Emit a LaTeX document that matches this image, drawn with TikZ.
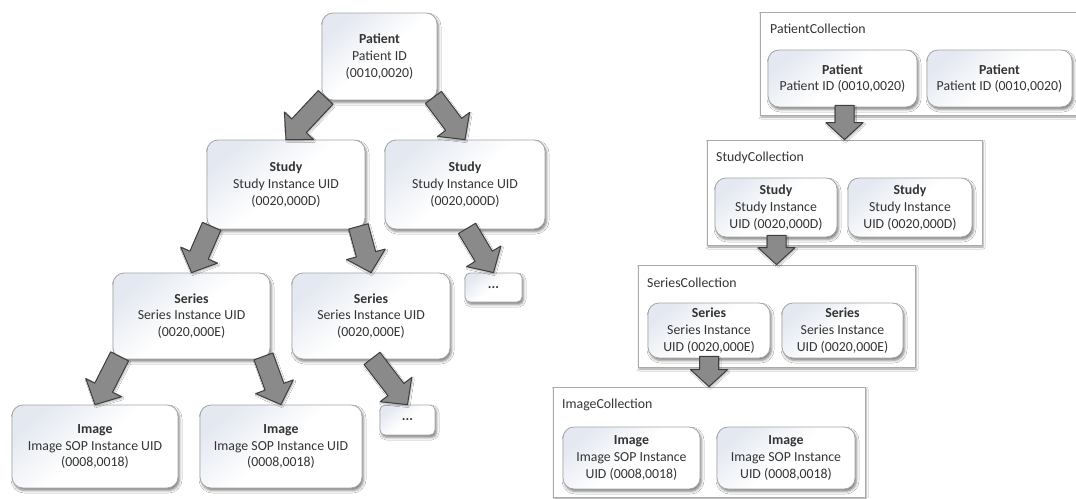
\documentclass[tikz,border=0pt]{standalone}
\usepackage{fontspec}
\setmainfont{Carlito}
\usetikzlibrary{calc,shadows.blur}

\definecolor{boxline}{RGB}{165,165,165}
\definecolor{boxtint}{RGB}{228,233,241}
\definecolor{txt}{RGB}{52,52,52}
\definecolor{arrowfill}{RGB}{138,138,138}
\definecolor{arrowline}{RGB}{62,62,62}
\definecolor{groupline}{RGB}{170,170,170}

\tikzset{
  base/.style={font=\fontsize{13.8}{16.7}\selectfont, text=txt, align=center, inner sep=0pt},
  sz/.style 2 args={minimum width=#1pt, minimum height=#2pt},
  entity/.style={base, rectangle, rounded corners=11pt, draw=boxline, line width=0.8pt,
    top color=boxtint, bottom color=white, middle color=white, shading angle=40,
    blur shadow={shadow xshift=1.5pt, shadow yshift=-2.5pt, shadow blur radius=2.5pt, shadow opacity=50}},
  more/.style={entity, rounded corners=5pt},
  group/.style={rectangle, draw=groupline, line width=0.8pt, fill=white,
    blur shadow={shadow xshift=1pt, shadow yshift=-2pt, shadow blur radius=2pt, shadow opacity=40}},
  grouplabel/.style={base, anchor=west},
  arrowbody/.style={fill=arrowfill, draw=arrowline, line width=1pt, line join=round,
    blur shadow={shadow xshift=1pt, shadow yshift=-1.5pt, shadow blur radius=1.5pt, shadow opacity=30}},
}

% block arrow: start, tip, shaft half width, head half width, head length
\newcommand\blockarrow[5]{%
  \coordinate (baA) at #1;
  \coordinate (baB) at #2;
  \coordinate (baH) at ($(baB)!#5!(baA)$);
  \draw[arrowbody] ($(baA)!#3!90:(baB)$) -- ($(baH)!#3!90:(baB)$) -- ($(baH)!#4!90:(baB)$)
    -- (baB) -- ($(baH)!#4!-90:(baB)$) -- ($(baH)!#3!-90:(baB)$) -- ($(baA)!#3!-90:(baB)$) -- cycle;
}

\begin{document}
\begin{tikzpicture}[x=1pt, y=-1pt]
\useasboundingbox (0,0) rectangle (1076,498);
\clip (0,0) rectangle (1076,498);
\fill[white] (0,0) rectangle (1076,498);

% ---------- hierarchy tree ----------
\node[entity, sz={115}{87}] (pat) at (379.5,56.5) {\textbf{Patient}\\Patient ID\\(0010,0020)};
\node[entity, sz={158}{89}] (st1) at (286,184.5) {\textbf{Study}\\Study Instance UID\\(0020,000D)};
\node[entity, sz={160}{89}] (st2) at (465,184.5) {\textbf{Study}\\Study Instance UID\\(0020,000D)};
\node[entity, sz={157}{86}] (se1) at (191.5,316) {\textbf{Series}\\Series Instance UID\\(0020,000E)};
\node[entity, sz={158}{86}] (se2) at (371,316) {\textbf{Series}\\Series Instance UID\\(0020,000E)};
\node[more, sz={57}{29}] (dots1) at (493.5,287.5) {\textbf{...}};
\node[entity, sz={166}{83}] (im1) at (95,446.5) {\textbf{Image}\\Image SOP Instance UID\\(0008,0018)};
\node[entity, sz={162}{83}] (im2) at (281,446.5) {\textbf{Image}\\Image SOP Instance UID\\(0008,0018)};
\node[more, sz={55}{30}] (dots2) at (407.5,420) {\textbf{...}};

\blockarrow{($(pat.south west)+(4,-3)$)}{(st1.north)}{10pt}{20pt}{19pt}
\blockarrow{($(pat.south east)+(-4,-3)$)}{(st2.north)}{10pt}{20pt}{19pt}
\blockarrow{($(st1.south west)+(5,-3)$)}{(se1.north)}{10pt}{20pt}{19pt}
\blockarrow{($(st1.south east)+(-7,-3)$)}{(se2.north)}{10pt}{20pt}{19pt}
\blockarrow{($(st2.south)+(2,-1)$)}{(dots1.north)}{10pt}{20pt}{19pt}
\blockarrow{($(se1.south west)+(7,-3)$)}{(im1.north)}{10pt}{20pt}{19pt}
\blockarrow{($(se1.south east)+(-7,-3)$)}{(im2.north)}{10pt}{20pt}{19pt}
\blockarrow{($(se2.south)+(1,-1)$)}{(dots2.north)}{10pt}{20pt}{19pt}

% ---------- collections ----------
\node[group, sz={322}{103}] (pc) at (921,63.5) {};
\node[grouplabel] (pcl) at (770,29) {PatientCollection};
\node[entity, sz={149}{57}] (rp1) at (842.5,78.5) {\textbf{Patient}\\Patient ID (0010,0020)};
\node[entity, sz={145}{57}] (rp2) at (999.5,78.5) {\textbf{Patient}\\Patient ID (0010,0020)};

\node[group, sz={275}{105}] (sc) at (844.5,192.5) {};
\node[grouplabel] (scl) at (716,158) {StudyCollection};
\node[entity, sz={122}{59}] (rs1) at (776,207.5) {\textbf{Study}\\Study Instance\\UID (0020,000D)};
\node[entity, sz={124}{59}] (rs2) at (910,207.5) {\textbf{Study}\\Study Instance\\UID (0020,000D)};

\node[group, sz={277}{102}] (sec) at (776.5,316) {};
\node[grouplabel] (secl) at (647,283) {SeriesCollection};
\node[entity, sz={122}{55}] (rse1) at (709,330.5) {\textbf{Series}\\Series Instance\\UID (0020,000E)};
\node[entity, sz={121}{55}] (rse2) at (842.5,330.5) {\textbf{Series}\\Series Instance\\UID (0020,000E)};

\node[group, sz={312}{110}] (ic) at (709,442) {};
\node[grouplabel] (icl) at (562,405) {ImageCollection};
\node[entity, sz={137}{62}] (ri1) at (631.5,458) {\textbf{Image}\\Image SOP Instance\\UID (0008,0018)};
\node[entity, sz={138}{62}] (ri2) at (786,458) {\textbf{Image}\\Image SOP Instance\\UID (0008,0018)};

\blockarrow{($(sc.north |- rp1.south)+(0,-2)$)}{(sc.north)}{9.5pt}{18.5pt}{17pt}
\blockarrow{($(sec.north |- rs1.south)+(0,-2)$)}{(sec.north)}{9.5pt}{18.5pt}{17pt}
\blockarrow{($(ic.north |- rse1.south)+(0,-2)$)}{(ic.north)}{9.5pt}{18.5pt}{17pt}
\end{tikzpicture}
\end{document}
